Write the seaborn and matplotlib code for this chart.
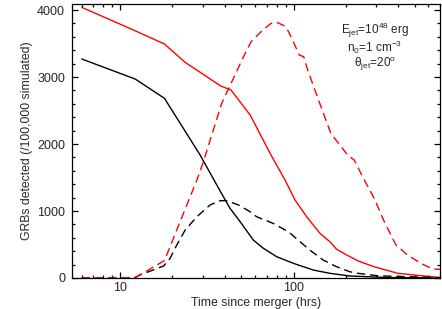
import matplotlib
matplotlib.use("Agg")
import matplotlib.pyplot as plt
import seaborn as sns
import numpy as np
from matplotlib.ticker import FixedLocator, MultipleLocator, NullFormatter

# ---- data ----
red_solid_t = [6.0, 12.2, 18.0, 23.7, 38.0, 43.6, 56.2, 74.1, 89.3, 102, 119, 142, 162, 177, 203, 236, 291, 399, 543, 700]
red_solid_n = [4040, 3690, 3493, 3219, 2866, 2806, 2433, 1836, 1463, 1164, 915, 667, 542, 430, 343, 254, 169, 70, 34, 7]

black_solid_t = [6.0, 12.2, 18.0, 28.9, 37.7, 43.0, 49.2, 58.6, 67.0, 79.9, 99.7, 130, 162, 211, 349, 700]
black_solid_n = [3269, 2970, 2682, 1836, 1300, 1040, 840, 567, 443, 318, 219, 119, 70, 30, 7, 0]

red_dash_t = [6.0, 12.0, 13.0, 18.0, 27.7, 30.2, 38.5, 52.0, 56.9, 65.0, 74.1, 81.1, 90.5, 96.7, 108, 114.5,
              120.7, 144, 164, 205, 224, 256, 292, 334, 390, 455, 543, 634, 700]
red_dash_n = [0, 0, 45, 260, 1463, 1736, 2607, 3328, 3527, 3677, 3801, 3811, 3751, 3601, 3328, 3303,
              3104, 2557, 2160, 1836, 1761, 1463, 1190, 840, 493, 343, 219, 134, 130]

black_dash_t = [6.0, 12.0, 13.0, 17.8, 19.4, 21.2, 23.7, 27.7, 33.0, 37.7, 41.2, 48.1, 56.1, 61.2, 76.2, 93.4,
                109, 124, 148, 177, 211, 235, 305, 417, 700]
black_dash_n = [0, 0, 45, 179, 294, 493, 716, 915, 1090, 1154, 1154, 1090, 990, 915, 816, 691,
                542, 418, 269, 169, 94, 70, 34, 22, 5]

y_major = [0, 1000, 2000, 3000, 4000]
x_major = [10, 100]
x_label = "Time since merger (hrs)"
y_label = "GRBs detected (/100,000 simulated)"
ann_lines = [r"E$_{\rm jet}$=10$^{48}$ erg", r"n$_0$=1 cm$^{-3}$", r"$\theta_{\rm jet}$=20$^{\rm o}$"]

sns.set_style("ticks")
plt.rcParams["font.family"] = ["Liberation Sans", "DejaVu Sans"]
plt.rcParams["mathtext.fontset"] = "custom"
plt.rcParams["mathtext.rm"] = "Liberation Sans"
plt.rcParams["mathtext.it"] = "Liberation Sans:italic"
plt.rcParams["mathtext.default"] = "rm"

fig = plt.figure(figsize=(4.42, 3.09), dpi=100)
ax = fig.add_axes([72/442, 1 - 278/309, (440 - 72)/442, (278 - 4)/309])

lw = 1.0
dash = (0, (6, 3.5))
sns.lineplot(x=black_solid_t, y=black_solid_n, ax=ax, color="black", lw=lw, estimator=None, sort=False)
sns.lineplot(x=red_solid_t, y=red_solid_n, ax=ax, color="red", lw=lw, estimator=None, sort=False)
sns.lineplot(x=black_dash_t, y=black_dash_n, ax=ax, color="black", lw=lw, estimator=None, sort=False)
sns.lineplot(x=red_dash_t, y=red_dash_n, ax=ax, color="red", lw=lw, estimator=None, sort=False)
lines = ax.get_lines()
for ln in lines[2:4]:
    ln.set_linestyle(dash)

ax.set_xscale("log")
ax.set_xlim(5.27, 700)
ax.set_ylim(0, 4090)

ax.xaxis.set_major_locator(FixedLocator(x_major))
ax.set_xticklabels([str(v) for v in x_major])
ax.xaxis.set_minor_locator(FixedLocator([6, 7, 8, 9, 20, 30, 40, 50, 60, 70, 80, 90, 200, 300, 400, 500, 600, 700]))
ax.xaxis.set_minor_formatter(NullFormatter())
ax.yaxis.set_major_locator(FixedLocator(y_major))
ax.set_yticklabels([str(v) for v in y_major])
ax.yaxis.set_minor_locator(MultipleLocator(200))

ax.tick_params(which="both", direction="in", top=True, right=True, color="black", width=0.9)
ax.tick_params(which="major", length=4.5, labelsize=9)
ax.tick_params(axis="y", which="major", pad=5)
ax.tick_params(axis="x", which="major", pad=3)
ax.tick_params(which="minor", length=2.5)
for s in ax.spines.values():
    s.set_linewidth(0.9)
    s.set_color("black")

ax.set_xlabel(x_label, fontsize=8.8, labelpad=2)
ax.set_ylabel(y_label, fontsize=8.8, labelpad=3)

ys = [0.903, 0.840, 0.780]
for txt, yy in zip(ann_lines, ys):
    ax.text(0.823, yy, txt, transform=ax.transAxes, ha="center", va="center", fontsize=8.5)

fig.savefig("out.png", dpi=100)
